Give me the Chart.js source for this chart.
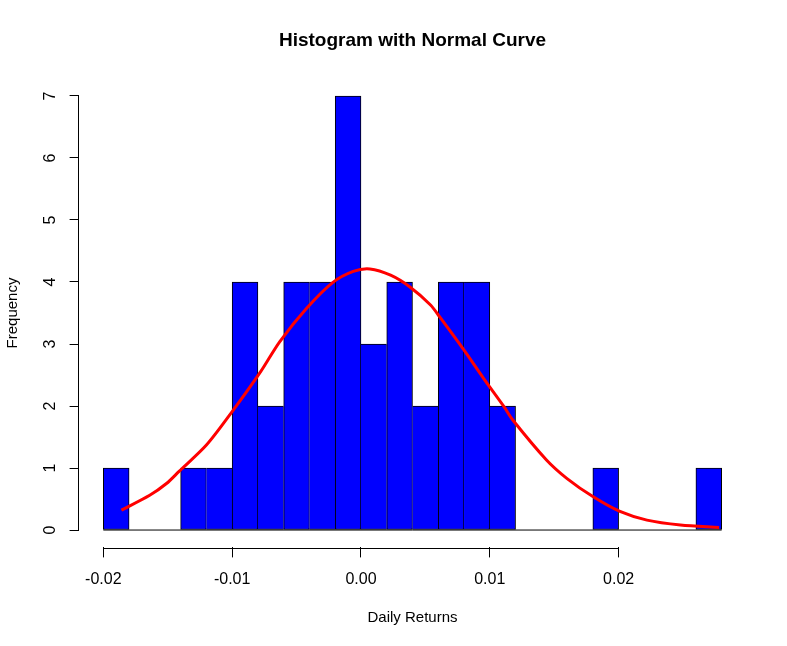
<!DOCTYPE html>
<html><head><meta charset="utf-8">
<script src="https://cdn.jsdelivr.net/npm/chart.js@4.4.1/dist/chart.umd.min.js"></script>
<style>html,body{margin:0;padding:0;background:#fff;} canvas{display:block;}</style>
</head><body>
<div style="width:787px;height:646px;"><canvas id="c" width="787" height="646"></canvas></div>
<script>
// ---- data ----
const binMids = [-0.019,-0.017,-0.015,-0.013,-0.011,-0.009,-0.007,-0.005,-0.003,-0.001,
                 0.001,0.003,0.005,0.007,0.009,0.011,0.013,0.015,0.017,0.019,0.021,0.023,0.025,0.027];
const counts  = [1,0,0,1,1,4,2,4,4,7,3,4,2,4,4,2,0,0,0,1,0,0,0,1];
const binRange = [-0.02, 0.028];
const curveX = [-0.0186,-0.0164,-0.0151,-0.0141,-0.0120,-0.0100,-0.0078,-0.0063,-0.0042,-0.0022,-0.0006,
                0.0007,0.0023,0.0038,0.0054,0.0061,0.0080,0.0095,0.0111,0.0118,0.0144,0.0160,0.0180,0.0201,0.0222,0.0248,0.0278];
const curveY = [0.32,0.56,0.75,0.95,1.37,1.91,2.55,3.04,3.58,3.99,4.17,
                4.21,4.11,3.92,3.63,3.44,2.90,2.45,1.99,1.77,1.13,0.83,0.54,0.30,0.16,0.08,0.04];
const xTickValues = [-0.02,-0.01,0,0.01,0.02];
const xTickLabels = ['-0.02','-0.01','0.00','0.01','0.02'];
const yTickValues = [0,1,2,3,4,5,6,7];
const yTickLabels = ['0','1','2','3','4','5','6','7'];
const xLimits = [-0.02192, 0.02992];
const yLimits = [-0.28, 7.28];
const titleText = 'Histogram with Normal Curve';
const xTitle = 'Daily Returns';
const yTitle = 'Frequency';

// ---- chart ----
const FONT = "'Liberation Sans', Arial, Helvetica, sans-serif";
Chart.defaults.font.family = FONT;
Chart.defaults.color = '#000';

const axisLines = {
  id: 'axisLines',
  afterDraw(chart) {
    const ctx = chart.ctx, sx = chart.scales.x, sy = chart.scales.y;
    ctx.save();
    ctx.strokeStyle = '#000'; ctx.lineWidth = 1;
    ctx.beginPath();
    const yy = Math.round(sx.top) + 1.5;
    ctx.moveTo(sx.getPixelForValue(xTickValues[0]), yy);
    ctx.lineTo(sx.getPixelForValue(xTickValues[xTickValues.length - 1]), yy);
    const xx = Math.round(sy.right) - 0.5;
    ctx.moveTo(xx, sy.getPixelForValue(yTickValues[0]));
    ctx.lineTo(xx, sy.getPixelForValue(yTickValues[yTickValues.length - 1]));
    ctx.stroke();
    ctx.restore();
  }
};
const mainTitle = {
  id: 'mainTitle',
  afterDraw(chart) {
    const ctx = chart.ctx, ca = chart.chartArea;
    ctx.save();
    ctx.font = 'bold 19px ' + FONT;
    ctx.fillStyle = '#000';
    ctx.textAlign = 'center';
    ctx.textBaseline = 'middle';
    ctx.fillText(titleText, (ca.left + ca.right) / 2, 41);
    ctx.restore();
  }
};

new Chart(document.getElementById('c'), {
  data: {
    datasets: [
      {
        type: 'line', order: 0,
        data: curveX.map((x, i) => ({x, y: curveY[i]})),
        borderColor: '#FF0000', borderWidth: 3, pointRadius: 0,
        tension: 0.3, fill: false
      },
      {
        type: 'bar', order: 1,
        data: binMids.map((x, i) => ({x, y: counts[i]})),
        backgroundColor: (c) => counts[c.dataIndex] > 0 ? '#0000FF' : 'rgba(0,0,0,0)',
        borderColor: '#000000',
        borderSkipped: false,
        borderWidth: (c) => {
          const i = c.dataIndex, h = counts[i];
          const prev = i > 0 ? counts[i - 1] : 0;
          const next = i < counts.length - 1 ? counts[i + 1] : 0;
          return {top: 1, bottom: 1, left: prev < h ? 1 : 0, right: next <= h ? 1 : 0};
        },
        barPercentage: 1, categoryPercentage: 1
      },
      {
        type: 'line', order: 2,
        data: binRange.map(x => ({x, y: 0})),
        borderColor: '#000', borderWidth: 1, pointRadius: 0
      }
    ]
  },
  options: {
    responsive: false, animation: false,
    layout: {padding: {left: 0, right: 40.6, top: 78.6, bottom: 0}},
    plugins: {legend: {display: false}, tooltip: {enabled: false}, title: {display: false}},
    scales: {
      x: {
        type: 'linear', min: xLimits[0], max: xLimits[1], offset: false,
        afterBuildTicks: s => { s.ticks = xTickValues.map(v => ({value: v})); },
        afterFit: s => { s.height = 98.6; },
        ticks: {callback: (v, i) => xTickLabels[i], font: {size: 16}, padding: 13, maxRotation: 0, autoSkip: false, color: '#000'},
        grid: {offset: false, drawOnChartArea: false, drawTicks: true, tickLength: 10, color: '#000'},
        border: {display: false},
        title: {display: true, text: xTitle, font: {size: 15}, color: '#000', padding: {top: 0, bottom: 19}}
      },
      y: {
        type: 'linear', min: yLimits[0], max: yLimits[1],
        afterBuildTicks: s => { s.ticks = yTickValues.map(v => ({value: v})); },
        afterFit: s => { s.width = 78.6; },
        ticks: {callback: (v, i) => yTickLabels[i], font: {size: 16}, padding: 15, minRotation: 90, maxRotation: 90, crossAlign: 'center', autoSkip: false, color: '#000'},
        grid: {offset: false, drawOnChartArea: false, drawTicks: true, tickLength: 9, color: '#000'},
        border: {display: false},
        title: {display: true, text: yTitle, font: {size: 15}, color: '#000', padding: {top: 4, bottom: 0}}
      }
    }
  },
  plugins: [axisLines, mainTitle]
});
</script>
</body></html>
